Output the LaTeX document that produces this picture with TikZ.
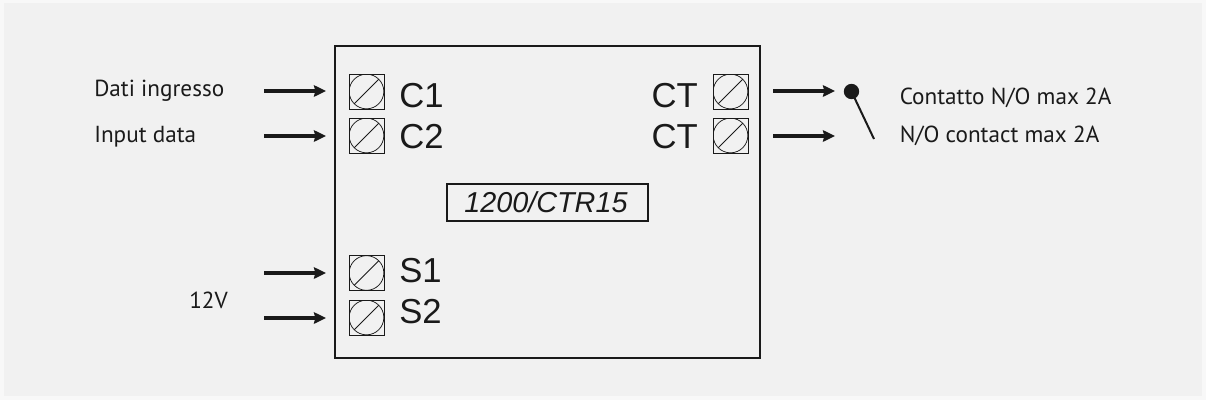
\documentclass[tikz,border=0pt]{standalone}
\usepackage{fontspec}
\setmainfont{Liberation Sans}
\newfontfamily\notefont{PT Sans}
\usetikzlibrary{arrows.meta}
\definecolor{pagebg}{HTML}{F1F1F1}
\definecolor{edgebg}{HTML}{F8F8F8}
\definecolor{ink}{HTML}{1A1A1A}
\tikzset{
  x=0.75pt,y=-0.75pt,
  terminal/.style={draw=ink,line width=0.5pt,minimum size=26.25pt,inner sep=0pt,outer sep=0pt,
    path picture={
      \draw[ink,line width=0.55pt] (path picture bounding box.center) circle[radius=13pt];
      \draw[ink,line width=0.55pt] ([shift={(-9.2pt,-9.2pt)}]path picture bounding box.center) -- ([shift={(9.2pt,9.2pt)}]path picture bounding box.center);
    }},
  termlabel/.style={font=\fontsize{26pt}{26pt}\selectfont,text=ink,inner sep=0pt},
  note/.style={font=\notefont\fontsize{17.4pt}{17.4pt}\selectfont,text=ink,inner sep=0pt,anchor=base west},
  feedline/.style={color=ink,line width=2.4pt,-{Stealth[length=9pt,width=8.5pt,inset=1pt]}},
}
\begin{document}
\begin{tikzpicture}
\useasboundingbox (0,0) rectangle (1206,400);
\fill[edgebg] (0,0) rectangle (1206,400);
\fill[pagebg] (4,3) rectangle (1202,396);
\node[draw=ink,line width=1.5pt,minimum width=318.75pt,minimum height=234pt,inner sep=0pt] (case) at (547.5,202) {};
\node[draw=ink,line width=1.1pt,minimum width=150.75pt,minimum height=27.75pt,inner sep=0pt,
  font=\itshape\fontsize{21.6pt}{21.6pt}\selectfont,text=ink] (model) at (547.5,202.5) {1200/CTR15\kern2.4pt\null};
\node[terminal] (tc1) at (366.5,91.5) {};
\node[terminal] (tc2) at (366.5,135.5) {};
\node[terminal] (tct1) at (730.5,91.5) {};
\node[terminal] (tct2) at (730.5,135.5) {};
\node[terminal] (ts1) at (366.5,273) {};
\node[terminal] (ts2) at (366.5,317.5) {};
\node[termlabel,anchor=base west] (lc1) at (399,107) {C1};
\node[termlabel,anchor=base west] (lc2) at (399,148) {C2};
\node[termlabel,anchor=base east] (lct1) at (698,107) {CT};
\node[termlabel,anchor=base east] (lct2) at (698,148) {CT};
\node[termlabel,anchor=base west] (ls1) at (399,282) {S1};
\node[termlabel,anchor=base west] (ls2) at (399,323) {S2};
\coordinate (ac1a) at (264,91); \coordinate (ac1b) at (326,91);
\coordinate (ac2a) at (264,136); \coordinate (ac2b) at (326,136);
\coordinate (as1a) at (264,273); \coordinate (as1b) at (326,273);
\coordinate (as2a) at (264,318); \coordinate (as2b) at (326,318);
\coordinate (act1a) at (773,91); \coordinate (act1b) at (835,91);
\coordinate (act2a) at (773,136); \coordinate (act2b) at (835,136);
\draw[feedline] (ac1a) -- (ac1b);
\draw[feedline] (ac2a) -- (ac2b);
\draw[feedline] (as1a) -- (as1b);
\draw[feedline] (as2a) -- (as2b);
\draw[feedline] (act1a) -- (act1b);
\draw[feedline] (act2a) -- (act2b);
\node[circle,fill=ink,minimum size=11.5pt,inner sep=0pt] (pivot) at (851.5,91.5) {};
\coordinate (blade) at (874,139);
\draw[ink,line width=1.5pt] (pivot.center) -- (blade);
\node[note] (n1) at (94,96) {Dati ingresso};
\node[note] (n2) at (94,142) {Input data};
\node[note] (n3) at (189,308) {12V};
\node[note] (n4) at (899.5,104) {Contatto N/O max 2A};
\node[note] (n5) at (899.5,142) {N/O contact max 2A};
\end{tikzpicture}
\end{document}
